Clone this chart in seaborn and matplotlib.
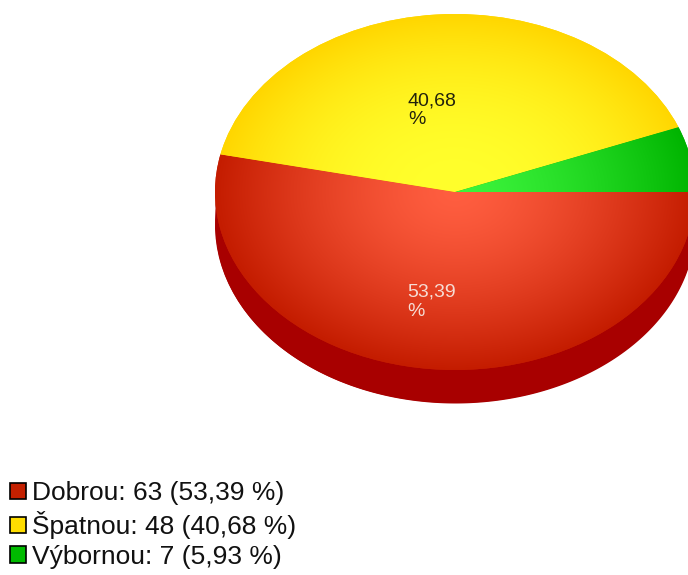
import numpy as np
import matplotlib
matplotlib.use("Agg")
import matplotlib.pyplot as plt
import seaborn as sns
from matplotlib.patches import Patch
from matplotlib.colors import to_rgb

# ---- data ----
categories = ["Dobrou", "Špatnou", "Výbornou"]
counts = [63, 48, 7]

# ---- style ----
top_light = ["#ff5e40", "#ffff2c", "#3cf43c"]
top_dark = ["#c41c00", "#ffd600", "#00b400"]
grad_power = [1.4, 2.2, 1.4]
side_colors = ["#a80000", "#c8a800", "#008800"]
legend_colors = ["#c42000", "#ffdd00", "#00bb00"]
label_colors = ["#f6dcd4", "#22220c", "#ffffff"]
label_radius = [0.62, 0.46, None]
label_shift = [-8, -14, 0]

sns.set_theme(style="white")
plt.rcParams['font.family'] = ['Liberation Sans', 'DejaVu Sans']

W, H = 688, 575
CX, CY = 455, 192
RX, RY = 240, 178
DEPTH = 33 / RY

fig = plt.figure(figsize=(W / 100, H / 100), dpi=100)
ax = fig.add_axes([0, 0, 1, 1])

total = sum(counts)
pcts = [100 * c / total for c in counts]
pct_txt = [f"{p:.2f}".replace(".", ",") for p in pcts]

# bottom (side) pie
wedges_b, _ = ax.pie(counts, colors=side_colors, startangle=0, counterclock=False,
                     center=(0, -DEPTH), radius=1, wedgeprops=dict(linewidth=0))

# side band of each wedge (front half only)
for w, col in zip(wedges_b, side_colors):
    t = np.radians(np.linspace(w.theta1, w.theta2, 400))
    s = np.sin(t)
    m = s <= 0
    if m.sum() > 1:
        xs = np.cos(t[m])
        order = np.argsort(xs)
        ax.fill_between(xs[order], s[m][order] - DEPTH, s[m][order], color=col,
                        linewidth=0, zorder=1)

# top pie
wedges, _ = ax.pie(counts, colors=top_dark, startangle=0, counterclock=False,
                   center=(0, 0), radius=1, wedgeprops=dict(linewidth=0))
for w in wedges:
    w.set_zorder(2)

# radial gradients clipped to wedges
gx, gy = np.meshgrid(np.linspace(-1, 1, 400), np.linspace(-1, 1, 400))
rr = np.clip(np.sqrt(gx ** 2 + gy ** 2), 0, 1)
for w, lc, dc, pw in zip(wedges, top_light, top_dark, grad_power):
    lc, dc = np.array(to_rgb(lc)), np.array(to_rgb(dc))
    f = rr[..., None] ** pw
    img = lc + (dc - lc) * f
    im = ax.imshow(img, extent=(-1, 1, -1, 1), origin="lower", aspect="auto",
                   zorder=3, interpolation="bilinear")
    im.set_clip_path(w)

# labels
for w, txt, col, r, sh in zip(wedges, pct_txt, label_colors, label_radius, label_shift):
    if r is None:
        continue
    mid = np.radians((w.theta1 + w.theta2) / 2)
    ax.annotate(f"{txt}\n%", xy=(r * np.cos(mid), r * np.sin(mid)),
                xytext=(sh, 0), textcoords="offset pixels",
                ha="center", va="center", multialignment="left",
                fontsize=14, color=col, zorder=5, linespacing=1.15)

ax.set_aspect("auto")
ax.set_xlim(-CX / RX, (W - CX) / RX)
ax.set_ylim(-(H - CY) / RY, CY / RY)
ax.axis("off")

handles = [Patch(facecolor=c, edgecolor="black", linewidth=1.2) for c in legend_colors]
labels = [f"{cat}: {c} ({p} %)" for cat, c, p in zip(categories, counts, pct_txt)]
leg = fig.legend(handles, labels, loc="lower left", bbox_to_anchor=(10 / W, 6 / H),
                 bbox_transform=fig.transFigure, frameon=False, fontsize=19,
                 handlelength=0.6, handleheight=0.6, handletextpad=0.25,
                 labelspacing=0.22, borderpad=0, borderaxespad=0)
for t in leg.get_texts():
    t.set_color("#111111")

fig.savefig("out.png", dpi=100)
